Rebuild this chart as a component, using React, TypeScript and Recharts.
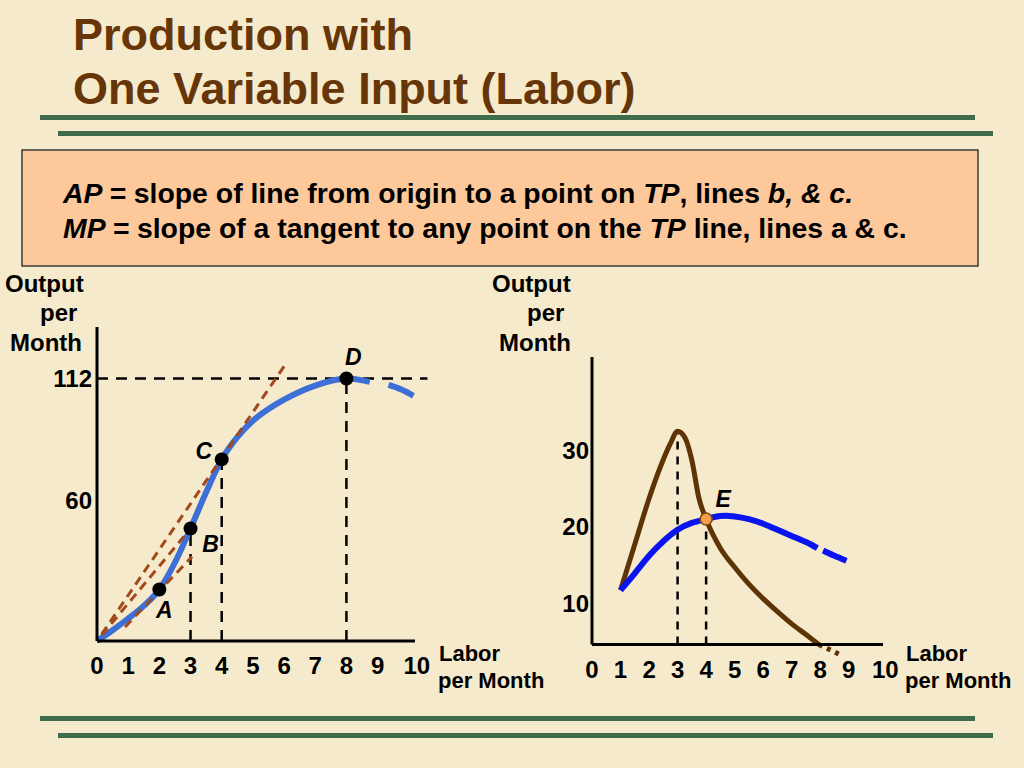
import React from 'react';
import { LineChart, Line, XAxis, YAxis, ReferenceLine, ReferenceDot } from 'recharts';

const FONT = '"Liberation Sans", Arial, Helvetica, sans-serif';

// ---- left panel: total product (TP) ----
const LABOR_TICKS = [0, 1, 2, 3, 4, 5, 6, 7, 8, 9, 10];
const TP_TICKS = [60, 112];
const TP_LABOR = [0, 0.5, 1, 1.5, 2, 2.5, 3, 3.5, 4, 4.5, 5, 5.5, 6, 7, 8, 8.75];
const TP_OUTPUT = [0, 4.6, 9.6, 15, 22, 33.5, 48, 63.5, 77.5, 87, 94, 99, 103, 109, 112, 110.6];
const TP_TAIL_LABOR = [9.35, 9.75, 10.15];
const TP_TAIL_OUTPUT = [109.3, 107.4, 104.6];

const TP_POINT_NAMES = ['A', 'B', 'C', 'D'];
const TP_POINT_LABOR = [2, 3, 4, 8];
const TP_POINT_OUTPUT = [22, 48, 77.5, 112];

// lines a (tangent at A), b (origin to B), c (origin to C, tangent at C)
const RAY_NAMES = ['a', 'b', 'c'];
const RAY_START = [[0.9, 6], [0.15, 2.4], [0.15, 2.9]];
const RAY_END = [[3.05, 36], [3, 48], [6, 117.2]];
const D_GUIDE_END = 10.6;

// ---- right panel: average (AP) and marginal (MP) product ----
const AP_MP_TICKS = [10, 20, 30];
const MP_LABOR = [1, 1.5, 2, 2.5, 2.75, 3, 3.25, 3.5, 3.75, 4, 4.5, 5, 5.5, 6, 6.5, 7, 7.5, 7.95];
const MP_OUTPUT = [11.7, 17.7, 23.7, 28.8, 30.9, 32.5, 31.7, 28.7, 23.7, 21, 17.2, 14.7, 12.5, 10.6, 8.9, 7.3, 5.9, 4.6];
const MP_TAIL_LABOR = [7.95, 8.8];
const MP_TAIL_OUTPUT = [4.6, 3.1];
const AP_LABOR = [1, 1.5, 2, 2.5, 3, 3.5, 4, 4.5, 5, 5.5, 6, 6.5, 7, 7.5, 7.9];
const AP_OUTPUT = [11.7, 13.9, 16.2, 18.1, 19.6, 20.5, 21, 21.4, 21.35, 21, 20.4, 19.6, 18.8, 18, 17.2];
const AP_TAIL_LABOR = [8.1, 8.5, 8.92];
const AP_TAIL_OUTPUT = [16.9, 16.2, 15.55];
const MP_PEAK = [3, 32.5];
const E_POINT = [4, 21];

type Series = { key: string; xs: number[]; ys: number[] };

function buildRows(series: Series[]) {
  const rows = new Map<number, any>();
  series.forEach((s) => {
    s.xs.forEach((x, i) => {
      const row = rows.get(x) ?? { labor: x };
      row[s.key] = s.ys[i];
      rows.set(x, row);
    });
  });
  return Array.from(rows.values()).sort((a, b) => a.labor - b.labor);
}

const tpRows = buildRows([
  { key: 'tp', xs: TP_LABOR, ys: TP_OUTPUT },
  { key: 'tpTail', xs: TP_TAIL_LABOR, ys: TP_TAIL_OUTPUT },
]);

const apmpRows = buildRows([
  { key: 'mp', xs: MP_LABOR, ys: MP_OUTPUT },
  { key: 'ap', xs: AP_LABOR, ys: AP_OUTPUT },
  { key: 'apTail', xs: AP_TAIL_LABOR, ys: AP_TAIL_OUTPUT },
]);

const LaborTick = (props: any) => {
  const { x, y, payload } = props;
  const v = payload.value;
  return (
    <text x={x + (v >= 10 ? 8 : 0)} y={y} dy="0.71em" textAnchor="middle"
      fontFamily={FONT} fontSize={24} fontWeight="bold" fill="#000">{v}</text>
  );
};

const OutputTick = (props: any) => {
  const { x, y, payload } = props;
  return (
    <text x={x} y={y} dy="0.36em" textAnchor="end"
      fontFamily={FONT} fontSize={24} fontWeight="bold" fill="#000">{payload.value}</text>
  );
};

// label offsets (pixels from the dot centre)
const MARK_OFFSETS: Record<string, [number, number]> = {
  A: [5, 21], B: [20, 15], C: [-18, -8], D: [7, -22], E: [17, -20],
};

const markLabel = (props: any) => {
  const { viewBox, value } = props;
  const [dx, dy] = MARK_OFFSETS[value] || [0, 0];
  const cx = viewBox.x + viewBox.width / 2;
  const cy = viewBox.y + viewBox.height / 2;
  return (
    <text x={cx + dx} y={cy + dy + 8} textAnchor="middle" fontFamily={FONT}
      fontSize={23} fontWeight="bold" fontStyle="italic" fill="#000">{value}</text>
  );
};

const axisLine = { stroke: '#000', strokeWidth: 3 };

function TotalProductChart() {
  return (
    <LineChart width={470} height={420} data={tpRows}
      margin={{ top: 67, right: 55, bottom: 9, left: 57 }}>
      <XAxis type="number" dataKey="labor" domain={[0, 10.2]} ticks={LABOR_TICKS} interval={0}
        axisLine={axisLine} tickLine={false} tickSize={8} tickMargin={8} height={30} tick={<LaborTick />} />
      <YAxis type="number" domain={[0, 134]} ticks={TP_TICKS} interval={0} width={40}
        axisLine={axisLine} tickLine={false} tickSize={3} tickMargin={2} tick={<OutputTick />} />

      <ReferenceLine segment={[{ x: 0, y: 112 }, { x: D_GUIDE_END, y: 112 }]} stroke="#000"
        strokeWidth={2.5} strokeDasharray="11 8" ifOverflow="visible" />
      {TP_POINT_NAMES.slice(1).map((n, i) => (
        <ReferenceLine key={`v-${n}`}
          segment={[{ x: TP_POINT_LABOR[i + 1], y: 0 }, { x: TP_POINT_LABOR[i + 1], y: TP_POINT_OUTPUT[i + 1] }]}
          stroke="#000" strokeWidth={2.5} strokeDasharray="11 8" ifOverflow="visible" />
      ))}

      <Line dataKey="tp" type="monotone" stroke="#3d6fd6" strokeWidth={6} dot={false}
        connectNulls isAnimationActive={false} />
      <Line dataKey="tpTail" type="monotone" stroke="#3d6fd6" strokeWidth={6} dot={false}
        connectNulls isAnimationActive={false} />

      {RAY_NAMES.map((n, i) => (
        <ReferenceLine key={`ray-${n}`}
          segment={[{ x: RAY_START[i][0], y: RAY_START[i][1] }, { x: RAY_END[i][0], y: RAY_END[i][1] }]}
          stroke="#a4491c" strokeWidth={3} strokeDasharray="9 6" ifOverflow="visible" />
      ))}

      {TP_POINT_NAMES.map((n, i) => (
        <ReferenceDot key={`pt-${n}`} x={TP_POINT_LABOR[i]} y={TP_POINT_OUTPUT[i]} r={7}
          fill="#000" stroke="none" label={{ value: n, content: markLabel }} />
      ))}
    </LineChart>
  );
}

function AverageMarginalChart() {
  return (
    <LineChart width={544} height={440} data={apmpRows}
      margin={{ top: 97, right: 141, bottom: 15.5, left: 72 }}>
      <XAxis type="number" dataKey="labor" domain={[0, 10.2]} ticks={LABOR_TICKS} interval={0}
        axisLine={axisLine} tickLine={false} tickSize={8} tickMargin={8} height={40} tick={<LaborTick />} />
      <YAxis type="number" domain={[4.6, 42.2]} ticks={AP_MP_TICKS} interval={0} width={40}
        axisLine={axisLine} tickLine={false} tickSize={1} tickMargin={2} tick={<OutputTick />} />

      <ReferenceLine segment={[{ x: MP_PEAK[0], y: 4.6 }, { x: MP_PEAK[0], y: MP_PEAK[1] }]}
        stroke="#000" strokeWidth={2.5} strokeDasharray="8 7" ifOverflow="visible" />
      <ReferenceLine segment={[{ x: E_POINT[0], y: 4.6 }, { x: E_POINT[0], y: E_POINT[1] }]}
        stroke="#000" strokeWidth={2.5} strokeDasharray="8 7" ifOverflow="visible" />

      <Line dataKey="mp" type="monotone" stroke="#5e3406" strokeWidth={5} dot={false}
        connectNulls isAnimationActive={false} />
      <ReferenceLine segment={[{ x: MP_TAIL_LABOR[0], y: MP_TAIL_OUTPUT[0] }, { x: MP_TAIL_LABOR[1], y: MP_TAIL_OUTPUT[1] }]}
        stroke="#5e3406" strokeWidth={5} strokeDasharray="4 5" ifOverflow="visible" />
      <Line dataKey="ap" type="natural" stroke="#0a14ee" strokeWidth={6} dot={false}
        connectNulls isAnimationActive={false} />
      <Line dataKey="apTail" type="natural" stroke="#0a14ee" strokeWidth={6} dot={false}
        connectNulls isAnimationActive={false} />

      <ReferenceDot x={E_POINT[0]} y={E_POINT[1]} r={6} fill="#f6a04c" stroke="#7a4a12"
        strokeWidth={1.5} label={{ value: 'E', content: markLabel }} />
    </LineChart>
  );
}

const GREEN = '#3f6d4b';

export default function App() {
  return (
    <div style={{ position: 'absolute', left: 0, top: 0, width: 1024, height: 768, background: '#f6eacc', overflow: 'hidden' }}>
      <svg width={1024} height={768} style={{ position: 'absolute', left: 0, top: 0 }}>
        <g fontFamily={FONT} fontWeight="bold">
          <text x={73} y={50} fontSize={45} fill="#663508">Production with</text>
          <text x={73} y={104} fontSize={45} fill="#663508">One Variable Input (Labor)</text>

          <rect x={40} y={115} width={935} height={5} fill={GREEN} />
          <rect x={58} y={131} width={935} height={5} fill={GREEN} />
          <rect x={40} y={716} width={935} height={5} fill={GREEN} />
          <rect x={58} y={733} width={935} height={5} fill={GREEN} />

          <rect x={22} y={150} width={956} height={116} fill="#fdc99b" stroke="#3a3a3a" strokeWidth={1.5} />
          <text x={63} y={203} fontSize={28.4} fill="#000">
            <tspan fontStyle="italic">{'AP ='}</tspan>
            <tspan>{' slope of line from origin to a point on '}</tspan>
            <tspan fontStyle="italic">{'TP'}</tspan>
            <tspan>{', lines '}</tspan>
            <tspan fontStyle="italic">{'b, & c.'}</tspan>
          </text>
          <text x={63} y={238} fontSize={28.4} fill="#000">
            <tspan fontStyle="italic">{'MP ='}</tspan>
            <tspan>{' slope of a tangent to any point on the '}</tspan>
            <tspan fontStyle="italic">{'TP'}</tspan>
            <tspan>{' line, lines a & c.'}</tspan>
          </text>

          <g fontSize={24} fill="#000">
            <text x={5} y={292}>Output</text>
            <text x={40} y={321}>per</text>
            <text x={10} y={351}>Month</text>
            <text x={492} y={292}>Output</text>
            <text x={527} y={321}>per</text>
            <text x={499} y={351}>Month</text>
          </g>
          <g fontSize={22} fill="#000">
            <text x={439} y={661}>Labor</text>
            <text x={438} y={688}>per Month</text>
            <text x={906} y={661}>Labor</text>
            <text x={905} y={688}>per Month</text>
          </g>
        </g>
      </svg>
      <div style={{ position: 'absolute', left: 0, top: 260 }}>
        <TotalProductChart />
      </div>
      <div style={{ position: 'absolute', left: 480, top: 260 }}>
        <AverageMarginalChart />
      </div>
    </div>
  );
}
